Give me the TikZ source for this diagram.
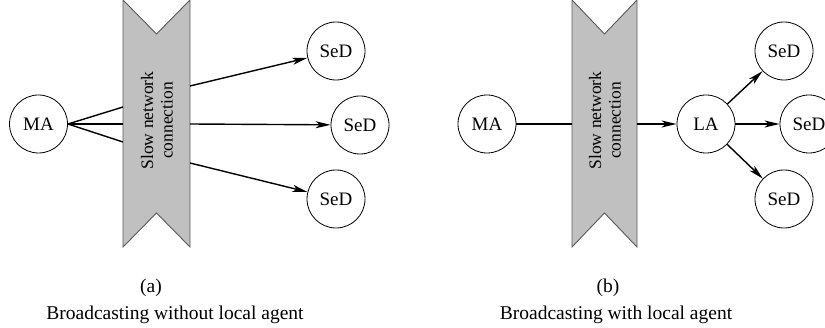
\documentclass[tikz,border=0pt]{standalone}
\usepackage{fontspec}
\setmainfont{Liberation Serif}
\usetikzlibrary{arrows.meta}
\begin{document}
\begin{tikzpicture}[x=1pt,y=-1pt,
  agent/.style={circle,draw,line width=0.8pt,minimum size=58pt,inner sep=0pt,font=\fontsize{19}{19}\selectfont},
  link/.style={line width=1.4pt},
  arr/.style={line width=1.4pt,-{Stealth[length=15pt,width=7pt,inset=4pt]}},
  banner/.style={fill={rgb,255:red,192;green,192;blue,192},draw={rgb,255:red,90;green,90;blue,90},line width=0.9pt},
  btext/.style={rotate=90,align=center,font=\fontsize{17.5}{19.5}\selectfont},
  sublabel/.style={anchor=base,font=\fontsize{19.5}{19.5}\selectfont},
  captext/.style={anchor=base,font=\fontsize{19.5}{19.5}\selectfont}]
\useasboundingbox (0,0) rectangle (825,328);
% ---------- (a) ----------
\draw[banner] (123,0) -- (156.5,34) -- (190,0) -- (190,247) -- (156.5,213) -- (123,247) -- cycle;
\node[btext] (sa) at (157,120.5) {Slow network\\connection};
\coordinate (al1) at (123,107);
\coordinate (al2) at (123,124);
\coordinate (al3) at (123,142);
\coordinate (ar1) at (190,86);
\coordinate (ar2) at (190,124);
\coordinate (ar3) at (190,163);
\node[agent] (maa) at (38.5,124) {MA};
\node[agent] (sa1) at (336,51) {SeD};
\node[agent] (sa2) at (360,125) {SeD};
\node[agent] (sa3) at (336,199) {SeD};
\draw[link] (maa.east) -- (al1);
\draw[link] (maa.east) -- (al2);
\draw[link] (maa.east) -- (al3);
\draw[arr] (ar1) -- (sa1);
\draw[arr] (ar2) -- (sa2);
\draw[arr] (ar3) -- (sa3);
\node[sublabel] (la) at (151,293) {(a)};
\node[captext] (ca) at (175,320) {Broadcasting without local agent};
% ---------- (b) ----------
\draw[banner] (572,0) -- (604.5,34) -- (637,0) -- (637,247) -- (604.5,213) -- (572,247) -- cycle;
\node[btext] (sb) at (605,120.5) {Slow network\\connection};
\coordinate (bl) at (572,124);
\coordinate (br) at (637,124);
\node[agent] (mab) at (487,124) {MA};
\node[agent] (lab) at (706,124) {LA};
\node[agent] (sb1) at (784,51) {SeD};
\node[agent] (sb2) at (809,124) {SeD};
\node[agent] (sb3) at (784,199) {SeD};
\draw[link] (mab) -- (bl);
\draw[arr] (br) -- (lab);
\draw[arr] (lab) -- (sb1);
\draw[arr] (lab) -- (sb2);
\draw[arr] (lab) -- (sb3);
\node[sublabel] (lb) at (608,293) {(b)};
\node[captext] (cb) at (616,320) {Broadcasting with local agent};
\end{tikzpicture}
\end{document}
